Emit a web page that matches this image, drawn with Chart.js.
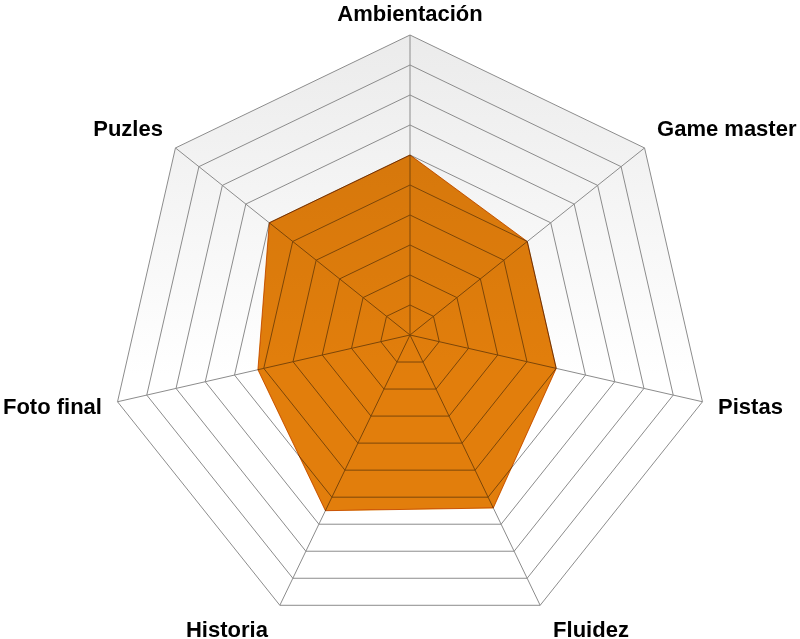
<!DOCTYPE html>
<html>
<head>
<meta charset="utf-8">
<script src="https://cdn.jsdelivr.net/npm/chart.js@4.4.1/dist/chart.umd.min.js"></script>
<style>
  html, body { margin: 0; padding: 0; background: #fff; }
  #wrap { width: 800px; height: 639px; position: relative; }
</style>
</head>
<body>
<div id="wrap"><canvas id="radarChart"></canvas></div>
<script>
// Categories and values (scale 0-10)
const categories = ['Ambientación', 'Game master', 'Pistas', 'Fluidez', 'Historia', 'Foto final', 'Puzles'];
const scores = [6, 5, 5, 6.4, 6.5, 5.2, 6];
const scaleMin = 0;
const scaleMax = 10;

// Fill the outer polygon with a light grey to white gradient,
// multiply the orange area so the grid shows through darker,
// and write the category names round the outside
const radarDecor = {
    id: 'radarDecor',
    beforeDraw(chart) {
        const scale = chart.scales.r;
        const ctx = chart.ctx;
        const top = scale.yCenter - scale.drawingArea;
        const grad = ctx.createLinearGradient(0, top, 0, scale.yCenter + 40);
        grad.addColorStop(0, '#ebebeb');
        grad.addColorStop(1, '#ffffff');
        ctx.save();
        ctx.beginPath();
        for (let i = 0; i < categories.length; i++) {
            const p = scale.getPointPosition(i, scale.drawingArea);
            if (i === 0) ctx.moveTo(p.x, p.y); else ctx.lineTo(p.x, p.y);
        }
        ctx.closePath();
        ctx.fillStyle = grad;
        ctx.fill();
        ctx.restore();
    },
    beforeDatasetsDraw(chart) {
        chart.ctx.save();
        chart.ctx.globalCompositeOperation = 'multiply';
    },
    afterDatasetsDraw(chart) {
        chart.ctx.restore();
    },
    afterDraw(chart) {
        const scale = chart.scales.r;
        const ctx = chart.ctx;
        ctx.save();
        ctx.fillStyle = '#000';
        ctx.font = 'bold 22px "Liberation Sans", Arial, sans-serif';
        ctx.textBaseline = 'alphabetic';
        categories.forEach((label, i) => {
            const p = scale.getPointPosition(i, scale.drawingArea + 16);
            const dx = p.x - scale.xCenter;
            const dy = p.y - scale.yCenter;
            const r = Math.hypot(dx, dy);
            const c = -dy / r; // 1 at top, -1 at bottom
            if (Math.abs(dx) < 1) ctx.textAlign = 'center';
            else ctx.textAlign = dx > 0 ? 'left' : 'right';
            let x = p.x;
            let y = p.y;
            if (c > 0.9) y += 2;
            else if (c > 0.3) y -= 2;
            else if (c > -0.3) y += 9;
            else {
                y += 17;
                x += dx > 0 ? 6 : -5;
            }
            ctx.fillText(label, x, y);
        });
        ctx.restore();
    }
};

const ctx = document.getElementById('radarChart').getContext('2d');
window.myRadarChart = new Chart(ctx, {
    type: 'radar',
    data: {
        labels: categories,
        datasets: [{
            data: scores,
            backgroundColor: '#e27e0c',
            borderColor: '#d9760a',
            borderWidth: 1,
            pointRadius: 0,
            fill: true
        }]
    },
    options: {
        responsive: true,
        maintainAspectRatio: false,
        animation: false,
        layout: { padding: { top: 35, bottom: 3, left: 20, right: 0 } },
        plugins: {
            legend: { display: false },
            tooltip: { enabled: false }
        },
        elements: { line: { tension: 0 } },
        scales: {
            r: {
                min: scaleMin,
                max: scaleMax,
                ticks: { display: false, stepSize: 1 },
                grid: { color: '#8c8c8c', lineWidth: 1 },
                angleLines: { color: '#8c8c8c', lineWidth: 1 },
                pointLabels: { display: false }
            }
        }
    },
    plugins: [radarDecor]
});
</script>
</body>
</html>
